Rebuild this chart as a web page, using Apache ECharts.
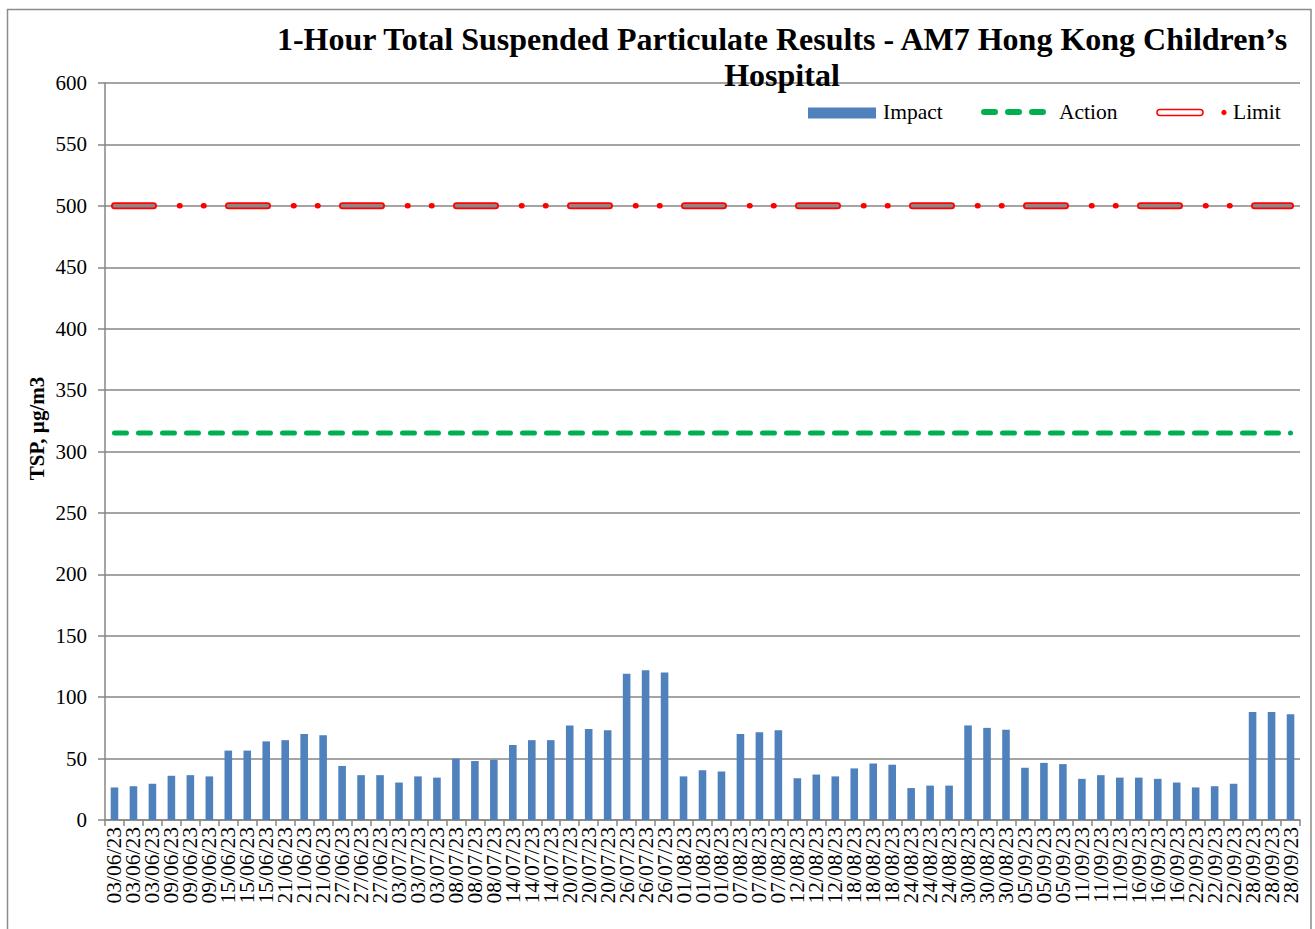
<!DOCTYPE html>
<html>
<head>
<meta charset="utf-8">
<title>1-Hour TSP - AM7</title>
<script src="https://cdn.jsdelivr.net/npm/echarts@6/dist/echarts.min.js"></script>
<style>
  html, body { margin: 0; padding: 0; background: #fff; }
  #chart { width: 1315px; height: 929px; }
</style>
</head>
<body>
<div id="chart"></div>
<script>
// sampling dates, three 1-hour samples per day
var sampleDays = ['03/06/23', '09/06/23', '15/06/23', '21/06/23', '27/06/23', '03/07/23', '08/07/23',
  '14/07/23', '20/07/23', '26/07/23', '01/08/23', '07/08/23', '12/08/23', '18/08/23', '24/08/23',
  '30/08/23', '05/09/23', '11/09/23', '16/09/23', '22/09/23', '28/09/23'];

// 1-hour TSP results, µg/m3
var impactValues = [
  26.5, 27.5, 29.5,   36, 36.5, 35.5,   56.5, 56.5, 64,   65, 70, 69,
  44, 36.5, 36.5,     30.5, 35.5, 34.5, 50, 48, 49,     61, 65, 65,
  77, 74, 73,         119, 122, 120,    35.5, 40.5, 39.5, 70, 71.5, 73,
  34, 37, 35.5,       42, 46, 45,       26, 28, 28,       77, 75, 73.5,
  42.5, 46.5, 45.5,   33.5, 36.5, 34.5, 34.5, 33.5, 30.5, 26.5, 27.5, 29.5,
  88, 88, 86
];

var actionLevel = 315;
var limitLevel = 500;
var yTicks = { min: 0, max: 600, step: 50 };

var categories = [];
sampleDays.forEach(function (d) { categories.push(d, d, d); });
var actionValues = categories.map(function () { return actionLevel; });
var limitValues = categories.map(function () { return limitLevel; });

var serif = "'Liberation Serif', 'Times New Roman', serif";
var gridGray = '#868686';

var myChart = echarts.init(document.getElementById('chart'), null, { renderer: 'svg' });

var option = {
  backgroundColor: '#fff',
  animation: false,
  grid: { left: 105, right: 15, top: 83, bottom: 109 },
  graphic: [
    // outer chart border
    { type: 'rect', shape: { x: 7.5, y: 9.5, width: 1303.5, height: 940 },
      style: { fill: 'none', stroke: '#8c8c8c', lineWidth: 1.5 }, z: 0 },
    { type: 'text', x: 782, y: 21, z: 10,
      style: { text: '1-Hour Total Suspended Particulate Results - AM7 Hong Kong Children\u2019s\nHospital',
        font: 'bold 32px ' + serif, fill: '#000', textAlign: 'center', textVerticalAlign: 'top', lineHeight: 36 } },
    // legend
    { type: 'rect', shape: { x: 808, y: 107.5, width: 68, height: 11 }, style: { fill: '#4f81bd' } },
    { type: 'text', x: 883, y: 112, style: { text: 'Impact', font: '21.5px ' + serif, fill: '#000', textVerticalAlign: 'middle' } },
    { type: 'line', shape: { x1: 984, y1: 112, x2: 995, y2: 112 }, style: { stroke: '#00b050', lineWidth: 6, lineCap: 'round' } },
    { type: 'line', shape: { x1: 1008, y1: 112, x2: 1019, y2: 112 }, style: { stroke: '#00b050', lineWidth: 6, lineCap: 'round' } },
    { type: 'line', shape: { x1: 1032, y1: 112, x2: 1043, y2: 112 }, style: { stroke: '#00b050', lineWidth: 6, lineCap: 'round' } },
    { type: 'text', x: 1059, y: 112, style: { text: 'Action', font: '21.5px ' + serif, fill: '#000', textVerticalAlign: 'middle' } },
    { type: 'rect', shape: { x: 1157, y: 109.5, width: 46, height: 6, r: 3 }, style: { fill: '#fff', stroke: '#ff0000', lineWidth: 1.5 } },
    { type: 'circle', shape: { cx: 1224, cy: 112.5, r: 2.6 }, style: { fill: '#ff0000' } },
    { type: 'text', x: 1233, y: 112, style: { text: 'Limit', font: '21.5px ' + serif, fill: '#000', textVerticalAlign: 'middle' } }
  ],
  xAxis: {
    type: 'category',
    data: categories,
    boundaryGap: true,
    axisLine: { show: true, lineStyle: { color: gridGray, width: 1.5 } },
    axisTick: { show: true, length: 6, lineStyle: { color: gridGray, width: 1.5 } },
    axisLabel: { interval: 0, rotate: 90, margin: 7, fontFamily: serif, fontSize: 21.5, color: '#000' },
    splitLine: { show: false }
  },
  yAxis: {
    type: 'value',
    min: yTicks.min,
    max: yTicks.max,
    interval: yTicks.step,
    name: 'TSP, \u00b5g/m3',
    nameLocation: 'middle',
    nameMoveOverlap: false,
    nameGap: 58,
    nameTextStyle: { fontFamily: serif, fontSize: 21, fontWeight: 'bold', color: '#000', padding: [0, 0, 0, 46] },
    axisLine: { show: true, lineStyle: { color: gridGray, width: 1.5 } },
    axisTick: { show: true, length: 7, lineStyle: { color: gridGray, width: 1.5 } },
    axisLabel: { margin: 18, fontFamily: serif, fontSize: 21, color: '#000' },
    splitLine: { show: true, lineStyle: { color: gridGray, width: 1.5 } }
  },
  series: [
    {
      name: 'Impact',
      type: 'bar',
      data: impactValues,
      barWidth: '40%',
      itemStyle: { color: '#4f81bd' }
    },
    {
      name: 'Action',
      type: 'line',
      data: actionValues,
      showSymbol: false,
      lineStyle: { color: '#00b050', width: 5, type: [12, 12], cap: 'round' },
      z: 3
    },
    {
      // limit: hollow red dash
      name: 'Limit',
      type: 'line',
      data: limitValues,
      showSymbol: false,
      lineStyle: { color: '#ff0000', width: 7, type: [39, 75], cap: 'round' },
      z: 3
    },
    {
      name: 'Limit inner',
      type: 'line',
      data: limitValues,
      showSymbol: false,
      lineStyle: { color: '#8f8585', width: 3.5, type: [39, 75], cap: 'round' },
      z: 4
    },
    {
      name: 'Limit dots',
      type: 'line',
      data: limitValues,
      showSymbol: false,
      lineStyle: { color: '#ff0000', width: 5.5, type: [0.5, 23.5, 0.5, 89.5], dashOffset: 48.5, cap: 'round' },
      z: 4
    }
  ]
};

myChart.setOption(option);
</script>
</body>
</html>
